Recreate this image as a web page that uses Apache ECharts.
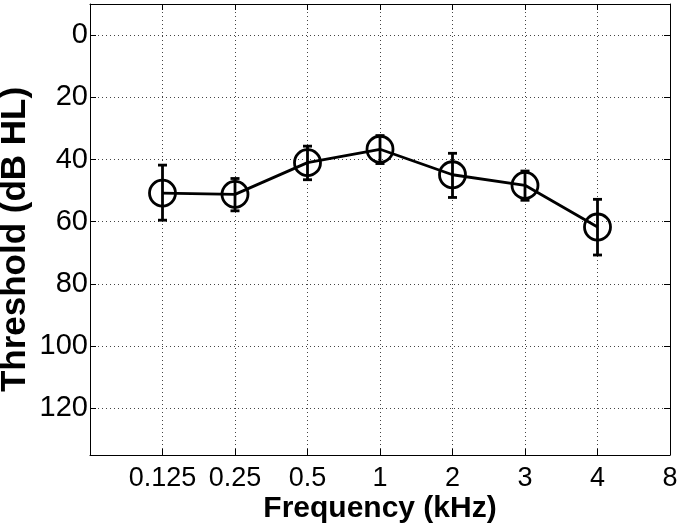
<!DOCTYPE html>
<html>
<head>
<meta charset="utf-8">
<script src="https://cdn.jsdelivr.net/npm/echarts@6/dist/echarts.min.js"></script>
<style>
html,body{margin:0;padding:0;background:#fff;}
#chart{width:680px;height:526px;}
</style>
</head>
<body>
<div id="chart"></div>
<script>
// Axis categories (first is an empty padding slot at the left edge, last "8" sits on the right edge)
var xCategories = ['', '0.125', '0.25', '0.5', '1', '2', '3', '4', '8'];
// Measured frequencies
var frequencies = ['0.125', '0.25', '0.5', '1', '2', '3', '4'];
// Mean threshold (dB HL)
var thresholds = [50.8, 51.2, 41.0, 36.7, 44.9, 48.3, 61.7];
// Error bar lower (top on inverted axis) and upper ends
var errLow  = [41.8, 46.1, 35.7, 32.3, 38.0, 43.7, 52.8];
var errHigh = [59.5, 56.5, 46.5, 41.3, 52.2, 53.1, 70.7];
// Y tick values
var yTicks = [0, 20, 40, 60, 80, 100, 120];

var FONT = '"Liberation Sans", Arial, Helvetica, sans-serif';

var lineData = frequencies.map(function (f, i) { return [f, thresholds[i]]; });
var errData = frequencies.map(function (f, i) { return [f, errLow[i], errHigh[i]]; });

var chart = echarts.init(document.getElementById('chart'), null, {renderer: 'canvas'});

var splitLineStyle = {show: true, lineStyle: {color: '#444', width: 1, type: [1, 3]}};

var option = {
  animation: false,
  backgroundColor: '#fff',
  grid: {left: 90, right: 10, top: 4, bottom: 71, containLabel: false, outerBoundsMode: 'none'},
  xAxis: [{
    type: 'category',
    data: xCategories,
    boundaryGap: false,
    position: 'bottom',
    name: 'Frequency (kHz)',
    nameLocation: 'middle',
    nameMoveOverlap: false,
    nameGap: 39,
    nameTextStyle: {fontFamily: FONT, fontWeight: 'bold', fontSize: 30, color: '#000'},
    axisLine: {show: true, onZero: false, lineStyle: {color: '#000', width: 1}},
    axisTick: {show: true, inside: true, length: 6, alignWithLabel: true, lineStyle: {color: '#000'}},
    axisLabel: {show: true, interval: 0, margin: 10, fontFamily: FONT, fontSize: 27, color: '#000'},
    splitLine: splitLineStyle
  }, {
    type: 'category',
    data: xCategories,
    boundaryGap: false,
    position: 'top',
    axisLine: {show: true, onZero: false, lineStyle: {color: '#000', width: 1}},
    axisTick: {show: true, inside: true, length: 6, lineStyle: {color: '#000'}},
    axisLabel: {show: false},
    splitLine: {show: false}
  }],
  yAxis: [{
    type: 'value',
    inverse: true,
    min: -10,
    max: 135,
    position: 'left',
    name: 'Threshold (dB HL)',
    nameLocation: 'middle',
    nameMoveOverlap: false,
    nameRotate: 90,
    nameGap: 57,
    nameTextStyle: {fontFamily: FONT, fontWeight: 'bold', fontSize: 35, color: '#000', padding: [0, 20, 0, 0]},
    axisLine: {show: true, onZero: false, lineStyle: {color: '#000', width: 1}},
    axisTick: {show: true, inside: true, length: 6, customValues: yTicks, lineStyle: {color: '#000'}},
    axisLabel: {show: true, margin: 2, customValues: yTicks, fontFamily: FONT, fontSize: 29, color: '#000'},
    splitLine: splitLineStyle
  }, {
    type: 'value',
    inverse: true,
    min: -10,
    max: 135,
    position: 'right',
    axisLine: {show: true, onZero: false, lineStyle: {color: '#000', width: 1}},
    axisTick: {show: true, inside: true, length: 6, customValues: yTicks, lineStyle: {color: '#000'}},
    axisLabel: {show: false},
    splitLine: {show: false}
  }],
  series: [{
    type: 'custom',
    xAxisIndex: 0,
    yAxisIndex: 0,
    z: 3,
    data: errData,
    encode: {x: 0, y: [1, 2]},
    renderItem: function (params, api) {
      var x = api.value(0);
      var p1 = api.coord([x, api.value(1)]);
      var p2 = api.coord([x, api.value(2)]);
      var hw = 4.5;
      var st = {stroke: '#000', lineWidth: 2.8};
      return {
        type: 'group',
        children: [
          {type: 'line', shape: {x1: p1[0], y1: p1[1], x2: p2[0], y2: p2[1]}, style: st},
          {type: 'line', shape: {x1: p1[0] - hw, y1: p1[1], x2: p1[0] + hw, y2: p1[1]}, style: st},
          {type: 'line', shape: {x1: p2[0] - hw, y1: p2[1], x2: p2[0] + hw, y2: p2[1]}, style: st}
        ]
      };
    }
  }, {
    type: 'line',
    xAxisIndex: 0,
    yAxisIndex: 0,
    z: 4,
    data: lineData,
    symbol: 'circle',
    symbolSize: 26,
    showAllSymbol: true,
    lineStyle: {color: '#000', width: 2.8},
    itemStyle: {color: 'rgba(0,0,0,0)', borderColor: '#000', borderWidth: 2.8}
  }]
};
chart.setOption(option);
</script>
</body>
</html>
